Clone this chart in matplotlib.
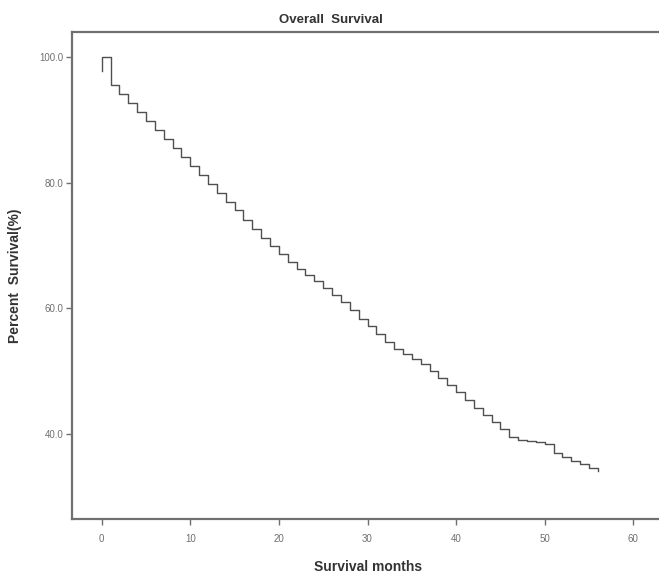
import matplotlib
matplotlib.use('Agg')
import matplotlib.pyplot as plt

# Kaplan-Meier style overall survival (step per month)
months = [0, 0, 1, 2, 3, 4, 5, 6, 7, 8, 9, 10, 11, 12, 13, 14, 15, 16, 17, 18, 19,
          20, 21, 22, 23, 24, 25, 26, 27, 28, 29, 30, 31, 32, 33, 34, 35, 36, 37, 38,
          39, 40, 41, 42, 43, 44, 45, 46, 47, 48, 49, 50, 51, 52, 53, 54, 55, 56]
survival = [97.8, 100.0, 95.6, 94.2, 92.7, 91.2, 89.8, 88.4, 87.0, 85.5, 84.1, 82.7,
            81.2, 79.8, 78.4, 77.0, 75.6, 74.1, 72.7, 71.2, 69.9, 68.6, 67.4, 66.3,
            65.3, 64.3, 63.3, 62.2, 61.0, 59.7, 58.4, 57.2, 55.9, 54.7, 53.6, 52.7,
            51.9, 51.1, 50.1, 48.9, 47.8, 46.7, 45.5, 44.2, 43.1, 42.0, 40.8, 39.6,
            39.1, 38.9, 38.7, 38.5, 37.0, 36.4, 35.8, 35.2, 34.6, 34.2]
xticks = [0, 10, 20, 30, 40, 50, 60]
yticks = [40, 60, 80, 100]

plt.rcParams['font.family'] = ['Liberation Sans', 'DejaVu Sans']

fig = plt.figure(figsize=(6.59, 5.75), dpi=100)
ax = fig.add_axes([0.1093, 0.0974, 0.8907, 0.8469])

ax.step(months, survival, where='post', color='#505050', lw=1.0)

ax.set_xlim(-3.35, 62.9)
ax.set_ylim(26.5, 104.0)
ax.set_xticks(xticks)
ax.set_yticks(yticks)
ax.set_yticklabels(['%.1f' % v for v in yticks])

for s in ['left', 'bottom', 'top']:
    ax.spines[s].set_color('#707070')
    ax.spines[s].set_linewidth(1.6)
ax.spines['right'].set_visible(False)
ax.tick_params(axis='both', direction='out', length=4, width=1, color='#707070',
               labelsize=7, labelcolor='#707070', pad=2)
ax.tick_params(axis='x', pad=7)

fig.text(331 / 659, 1 - 20 / 575, 'Overall  Survival', ha='center', va='center',
         fontsize=9.5, fontweight='bold', color='#333333')
fig.text(368 / 659, 1 - 567 / 575, 'Survival months', ha='center', va='center',
         fontsize=10, fontweight='bold', color='#333333')
fig.text(15 / 659, 1 - 276 / 575, 'Percent  Survival(%)', ha='center', va='center',
         rotation=90, fontsize=10, fontweight='bold', color='#333333')

fig.savefig('out.png', dpi=100, facecolor='white')
